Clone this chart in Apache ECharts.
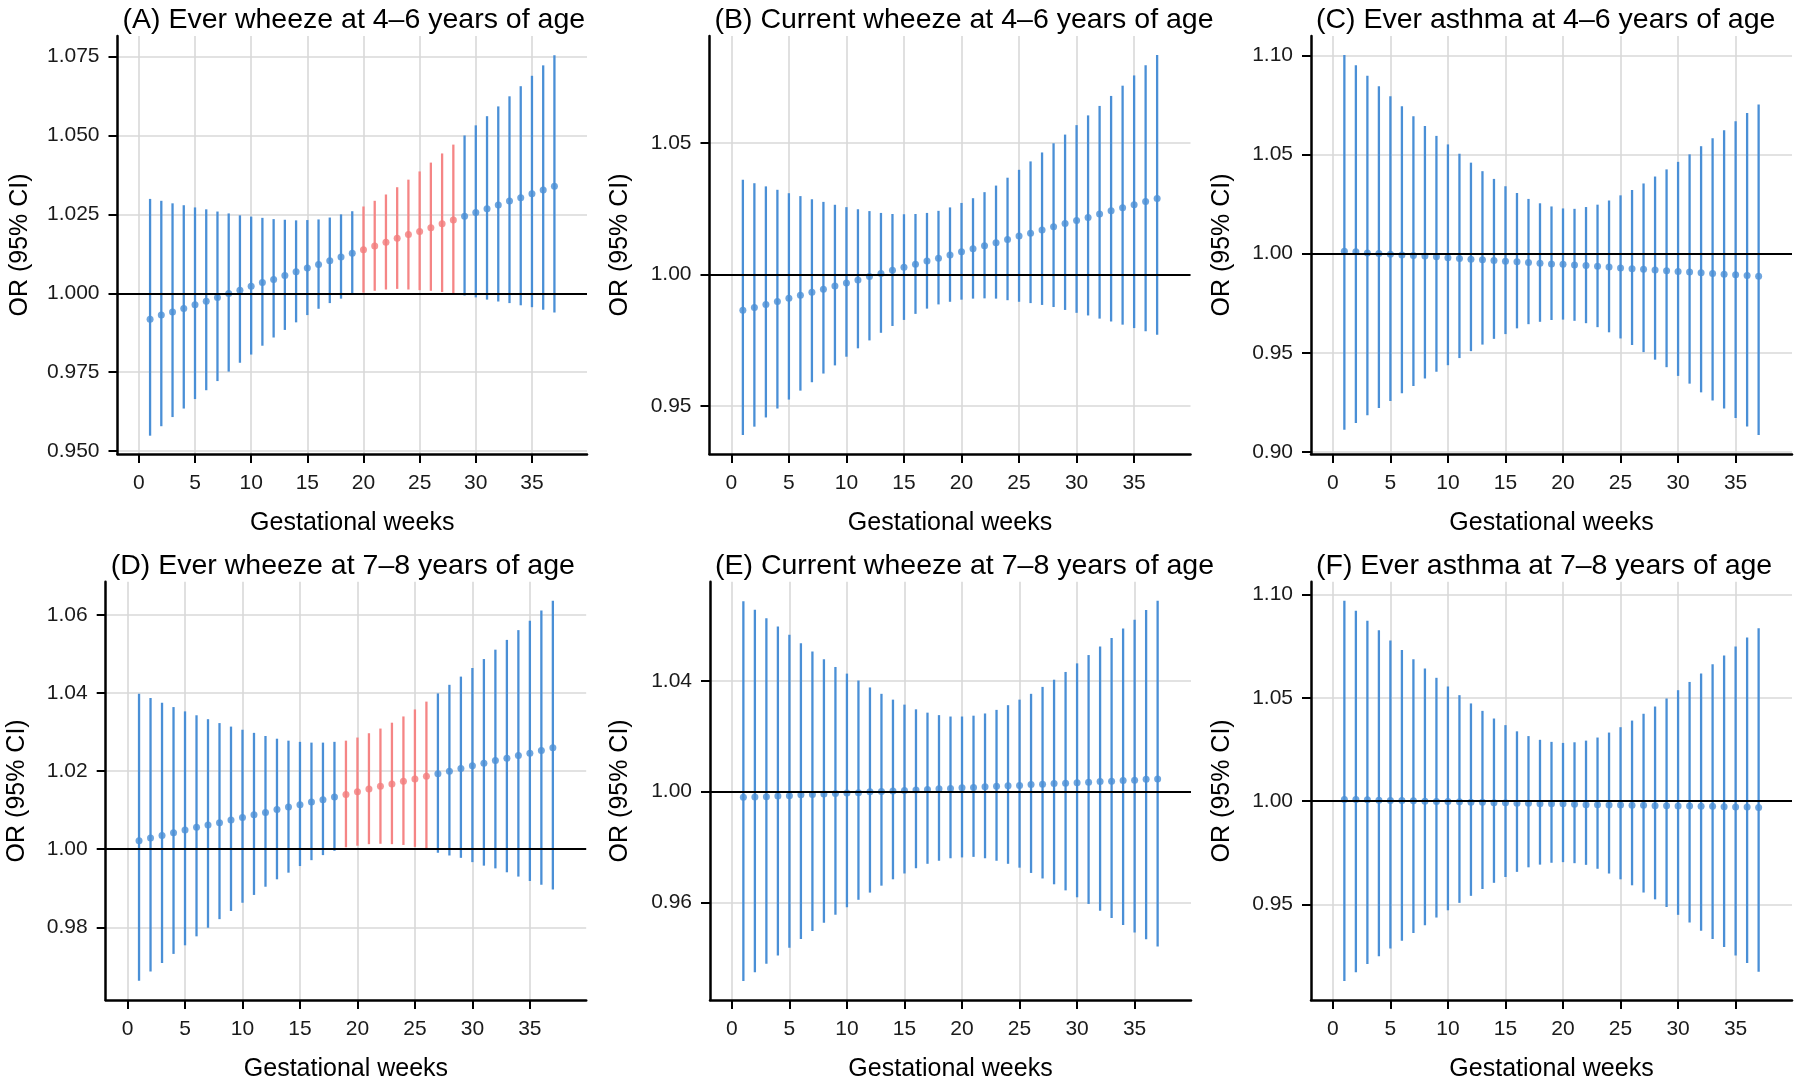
<!DOCTYPE html>
<html>
<head>
<meta charset="utf-8">
<script src="https://cdn.jsdelivr.net/npm/echarts@6/dist/echarts.min.js"></script>
<style>
html,body{margin:0;padding:0;background:#fff;}
#chart{width:1800px;height:1083px;}
</style>
</head>
<body>
<div id="chart"></div>
<script>
// ---------- DATA ----------
const weeks = [1,2,3,4,5,6,7,8,9,10,11,12,13,14,15,16,17,18,19,20,21,22,23,24,25,26,27,28,29,30,31,32,33,34,35,36,37];
const xTicks = [0,5,10,15,20,25,30,35];

// (A) Ever wheeze at 4-6 years
const aEst = [0.9918,0.9931,0.9941,0.9952,0.9964,0.9975,0.9987,0.9999,1.0010,1.0022,1.0034,1.0044,1.0056,1.0068,1.0080,1.0091,1.0103,1.0115,1.0127,1.0138,1.0150,1.0162,1.0174,1.0186,1.0196,1.0208,1.0220,1.0232,1.0244,1.0256,1.0268,1.0280,1.0292,1.0303,1.0315,1.0327,1.0339];
const aUp  = [1.0299,1.0293,1.0285,1.0279,1.0272,1.0266,1.0259,1.0253,1.0247,1.0243,1.0239,1.0235,1.0233,1.0231,1.0232,1.0234,1.0240,1.0250,1.0260,1.0275,1.0293,1.0313,1.0336,1.0360,1.0386,1.0414,1.0443,1.0471,1.0500,1.0532,1.0561,1.0592,1.0624,1.0656,1.0689,1.0722,1.0754];
const aLow = [0.9549,0.9579,0.9608,0.9635,0.9665,0.9693,0.9722,0.9752,0.9780,0.9806,0.9834,0.9860,0.9884,0.9908,0.9931,0.9951,0.9969,0.9983,0.9995,1.0002,1.0008,1.0012,1.0014,1.0012,1.0010,1.0008,1.0004,1.0001,0.9993,0.9987,0.9980,0.9974,0.9969,0.9962,0.9956,0.9948,0.9939];
const aTicks = [0.950,0.975,1.000,1.025,1.050,1.075];

// (B) Current wheeze at 4-6 years
const bEst = [0.9864,0.9874,0.9886,0.9897,0.9909,0.9921,0.9932,0.9944,0.9956,0.9967,0.9979,0.9992,1.0004,1.0016,1.0027,1.0039,1.0051,1.0062,1.0074,1.0086,1.0098,1.0109,1.0121,1.0133,1.0146,1.0157,1.0169,1.0181,1.0194,1.0205,1.0217,1.0230,1.0242,1.0254,1.0265,1.0277,1.0289];
const bUp  = [1.0360,1.0347,1.0335,1.0322,1.0309,1.0298,1.0286,1.0276,1.0265,1.0256,1.0248,1.0241,1.0234,1.0230,1.0229,1.0230,1.0234,1.0242,1.0255,1.0272,1.0290,1.0313,1.0338,1.0368,1.0398,1.0430,1.0464,1.0499,1.0532,1.0568,1.0605,1.0641,1.0679,1.0718,1.0757,1.0796,1.0835];
const bLow = [0.9389,0.9421,0.9456,0.9490,0.9524,0.9558,0.9590,0.9623,0.9654,0.9687,0.9719,0.9749,0.9778,0.9804,0.9827,0.9850,0.9870,0.9886,0.9896,0.9904,0.9908,0.9909,0.9908,0.9902,0.9896,0.9891,0.9884,0.9876,0.9865,0.9854,0.9844,0.9832,0.9821,0.9809,0.9796,0.9784,0.9771];
const bTicks = [0.95,1.00,1.05];

// (C) Ever asthma at 4-6 years
const cEst = [1.0012,1.0009,1.0003,1.0000,0.9997,0.9993,0.9991,0.9988,0.9984,0.9979,0.9976,0.9972,0.9969,0.9965,0.9962,0.9959,0.9955,0.9952,0.9948,0.9946,0.9943,0.9940,0.9936,0.9933,0.9927,0.9924,0.9921,0.9917,0.9914,0.9910,0.9907,0.9903,0.9900,0.9896,0.9893,0.9889,0.9886];
const cUp  = [1.1002,1.0950,1.0898,1.0845,1.0794,1.0743,1.0693,1.0644,1.0594,1.0551,1.0504,1.0459,1.0416,1.0377,1.0340,1.0306,1.0276,1.0254,1.0238,1.0228,1.0226,1.0235,1.0247,1.0268,1.0294,1.0321,1.0354,1.0389,1.0425,1.0463,1.0501,1.0542,1.0582,1.0623,1.0668,1.0710,1.0753];
const cLow = [0.9111,0.9145,0.9185,0.9221,0.9257,0.9295,0.9332,0.9370,0.9404,0.9437,0.9473,0.9508,0.9541,0.9570,0.9594,0.9623,0.9644,0.9656,0.9665,0.9667,0.9661,0.9649,0.9629,0.9603,0.9572,0.9539,0.9503,0.9465,0.9427,0.9383,0.9344,0.9300,0.9259,0.9218,0.9171,0.9128,0.9085];
const cTicks = [0.90,0.95,1.00,1.05,1.10];

// (D) Ever wheeze at 7-8 years
const dEst = [1.0022,1.0029,1.0035,1.0042,1.0049,1.0056,1.0062,1.0068,1.0075,1.0081,1.0088,1.0094,1.0102,1.0108,1.0114,1.0121,1.0127,1.0134,1.0140,1.0147,1.0154,1.0161,1.0167,1.0174,1.0180,1.0187,1.0193,1.0200,1.0207,1.0214,1.0220,1.0227,1.0233,1.0240,1.0246,1.0253,1.0260];
const dUp  = [1.0398,1.0387,1.0375,1.0364,1.0353,1.0343,1.0333,1.0323,1.0314,1.0306,1.0298,1.0290,1.0283,1.0278,1.0275,1.0273,1.0273,1.0275,1.0278,1.0286,1.0297,1.0309,1.0324,1.0340,1.0358,1.0378,1.0399,1.0421,1.0442,1.0464,1.0487,1.0511,1.0536,1.0561,1.0585,1.0611,1.0636];
const dLow = [0.9663,0.9687,0.9709,0.9732,0.9754,0.9777,0.9799,0.9821,0.9842,0.9863,0.9883,0.9904,0.9923,0.9940,0.9957,0.9972,0.9985,0.9996,1.0005,1.0009,1.0013,1.0014,1.0013,1.0011,1.0006,1.0001,0.9991,0.9984,0.9978,0.9967,0.9958,0.9951,0.9941,0.9930,0.9919,0.9909,0.9897];
const dTicks = [0.98,1.00,1.02,1.04,1.06];

// (E) Current wheeze at 7-8 years
const eEst = [0.9979,0.9980,0.9981,0.9984,0.9985,0.9988,0.9989,0.9991,0.9993,0.9995,0.9996,0.9999,1.0000,1.0002,1.0004,1.0006,1.0007,1.0010,1.0011,1.0014,1.0015,1.0017,1.0019,1.0021,1.0022,1.0025,1.0026,1.0029,1.0030,1.0032,1.0034,1.0036,1.0037,1.0040,1.0041,1.0044,1.0045];
const eUp  = [1.0687,1.0657,1.0626,1.0596,1.0566,1.0536,1.0506,1.0478,1.0450,1.0426,1.0401,1.0376,1.0353,1.0332,1.0314,1.0297,1.0285,1.0276,1.0271,1.0271,1.0274,1.0282,1.0295,1.0312,1.0332,1.0353,1.0378,1.0404,1.0432,1.0463,1.0493,1.0524,1.0555,1.0589,1.0621,1.0656,1.0689];
const eLow = [0.9316,0.9347,0.9378,0.9408,0.9436,0.9467,0.9496,0.9526,0.9555,0.9582,0.9609,0.9635,0.9660,0.9683,0.9704,0.9723,0.9739,0.9750,0.9759,0.9762,0.9764,0.9759,0.9750,0.9739,0.9725,0.9706,0.9686,0.9665,0.9643,0.9618,0.9594,0.9569,0.9543,0.9518,0.9491,0.9466,0.9440];
const eTicks = [0.96,1.00,1.04];

// (F) Ever asthma at 7-8 years
const fEst = [1.0008,1.0008,1.0007,1.0005,1.0003,1.0003,1.0002,1.0000,0.9998,0.9998,0.9997,0.9995,0.9995,0.9993,0.9992,0.9990,0.9990,0.9988,0.9987,0.9987,0.9985,0.9983,0.9983,0.9982,0.9982,0.9980,0.9980,0.9978,0.9978,0.9977,0.9977,0.9975,0.9975,0.9973,0.9972,0.9972,0.9970];
const fUp  = [1.0970,1.0922,1.0873,1.0827,1.0778,1.0732,1.0687,1.0642,1.0597,1.0555,1.0513,1.0473,1.0437,1.0400,1.0368,1.0338,1.0315,1.0297,1.0287,1.0282,1.0285,1.0293,1.0308,1.0332,1.0358,1.0390,1.0423,1.0458,1.0497,1.0537,1.0577,1.0618,1.0662,1.0705,1.0748,1.0792,1.0837];
const fLow = [0.9130,0.9172,0.9212,0.9250,0.9287,0.9325,0.9362,0.9400,0.9437,0.9472,0.9508,0.9542,0.9575,0.9605,0.9633,0.9658,0.9680,0.9693,0.9702,0.9705,0.9700,0.9692,0.9673,0.9650,0.9622,0.9593,0.9558,0.9525,0.9488,0.9450,0.9413,0.9373,0.9333,0.9295,0.9253,0.9217,0.9175];
const fTicks = [0.95,1.00,1.05,1.10];

const titles = [
  '(A) Ever wheeze at 4\u20136 years of age',
  '(B) Current wheeze at 4\u20136 years of age',
  '(C) Ever asthma at 4\u20136 years of age',
  '(D) Ever wheeze at 7\u20138 years of age',
  '(E) Current wheeze at 7\u20138 years of age',
  '(F) Ever asthma at 7\u20138 years of age'
];
const xTitle = 'Gestational weeks';
const yTitle = 'OR (95% CI)';
const refValue = 1;

// ---------- LAYOUT / STYLE ----------
const FONT = '"Liberation Sans", Arial, Helvetica, sans-serif';
const BLUE = '#4A8FD6';
const RED = '#F58585';
const RED_PT = '#F37C7C';
const panels = [
  {est:aEst, low:aLow, up:aUp, ticks:aTicks, dec:3, ymin:0.9491, ymax:1.0815, left:117.5, top:36,    w:469.5, h:418, nameGap:85},
  {est:bEst, low:bLow, up:bUp, ticks:bTicks, dec:2, ymin:0.9317, ymax:1.0907, left:709.5, top:36,    w:481,   h:418, nameGap:76.5},
  {est:cEst, low:cLow, up:cUp, ticks:cTicks, dec:2, ymin:0.8989, ymax:1.1098, left:1311,  top:36,    w:481,   h:418, nameGap:76.5},
  {est:dEst, low:dLow, up:dUp, ticks:dTicks, dec:2, ymin:0.9614, ymax:1.0685, left:105.7, top:581.7, w:480.5, h:419, nameGap:76},
  {est:eEst, low:eLow, up:eUp, ticks:eTicks, dec:2, ymin:0.9247, ymax:1.0758, left:710,   top:581.7, w:481,   h:419, nameGap:77},
  {est:fEst, low:fLow, up:fUp, ticks:fTicks, dec:2, ymin:0.9038, ymax:1.1062, left:1311,  top:581.7, w:481,   h:419, nameGap:76.5}
];

const option = {
  animation: false,
  backgroundColor: '#fff',
  textStyle: {fontFamily: FONT},
  title: [], grid: [], xAxis: [], yAxis: [], series: []
};

panels.forEach((p, i) => {
  option.title.push({
    text: titles[i], left: p.left, top: p.top - 35.5,
    textStyle: {fontFamily: FONT, fontSize: 28.5, fontWeight: 'normal', color: '#000'}
  });
  option.grid.push({left: p.left, top: p.top, width: p.w, height: p.h, containLabel: false});
  option.xAxis.push({
    type: 'value', gridIndex: i, min: -1.9, max: 39.9,
    name: xTitle, nameLocation: 'middle', nameGap: 57,
    nameTextStyle: {fontFamily: FONT, fontSize: 25, color: '#000'},
    axisLine: {show: true, onZero: false, lineStyle: {color: '#000', width: 2.5}},
    axisTick: {show: true, length: 9, lineStyle: {color: '#000', width: 2}, customValues: xTicks},
    axisLabel: {fontFamily: FONT, fontSize: 21, color: '#1a1a1a', margin: 19, customValues: xTicks,
                formatter: v => String(v)},
    splitLine: {show: true, lineStyle: {color: '#D9D9D9', width: 1.6}}
  });
  option.yAxis.push({
    type: 'value', gridIndex: i, min: p.ymin, max: p.ymax,
    name: yTitle, nameLocation: 'middle', nameGap: p.nameGap,
    nameTextStyle: {fontFamily: FONT, fontSize: 25, color: '#000'},
    axisLine: {show: true, onZero: false, lineStyle: {color: '#000', width: 2.5}},
    axisTick: {show: true, length: 9, lineStyle: {color: '#000', width: 2}, customValues: p.ticks},
    axisLabel: {fontFamily: FONT, fontSize: 21, color: '#1a1a1a', margin: 18, customValues: p.ticks,
                formatter: v => v.toFixed(p.dec)},
    splitLine: {show: true, lineStyle: {color: '#D9D9D9', width: 1.6}}
  });
  const barData = weeks.map((w, k) => [w, p.low[k], p.up[k]]);
  option.series.push({
    type: 'custom', xAxisIndex: i, yAxisIndex: i, z: 2, silent: true,
    data: barData,
    encode: {x: 0, y: [1, 2]},
    renderItem: (params, api) => {
      const x = api.value(0), lo = api.value(1), hi = api.value(2);
      const a = api.coord([x, lo]), b = api.coord([x, hi]);
      return {type: 'line', shape: {x1: a[0], y1: a[1], x2: b[0], y2: b[1]},
              style: {stroke: lo > refValue ? RED : BLUE, lineWidth: 2.3}};
    }
  });
  option.series.push({
    type: 'line', xAxisIndex: i, yAxisIndex: i, z: 3, silent: true,
    data: [], symbol: 'none',
    markLine: {silent: true, symbol: 'none', label: {show: false},
               lineStyle: {color: '#000', width: 2.2, type: 'solid'},
               data: [{yAxis: refValue}]}
  });
  option.series.push({
    type: 'scatter', xAxisIndex: i, yAxisIndex: i, z: 4, silent: true,
    symbol: 'circle', symbolSize: 7,
    data: weeks.map((w, k) => ({value: [w, p.est[k]],
      itemStyle: {color: p.low[k] > refValue ? RED_PT : BLUE}}))
  });
});

const chart = echarts.init(document.getElementById('chart'), null, {renderer: 'canvas'});
chart.setOption(option);
</script>
</body>
</html>
